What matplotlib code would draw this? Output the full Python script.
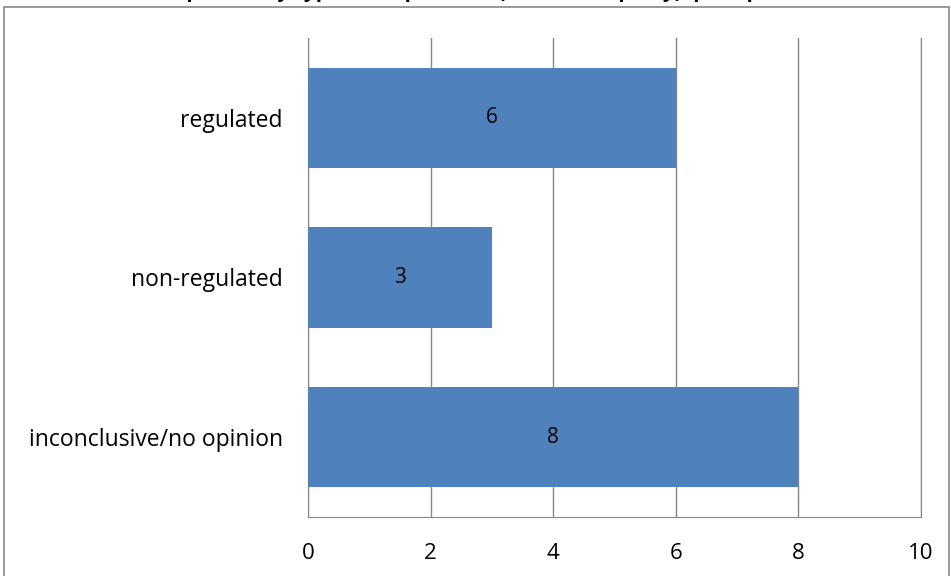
import matplotlib.pyplot as plt
from matplotlib.patches import Rectangle

# Responses per category
categories = ['regulated', 'non-regulated', 'inconclusive/no opinion']
counts = [6, 3, 8]
xticks = [0, 2, 4, 6, 8, 10]

plt.rcParams['font.family'] = ['Open Sans', 'DejaVu Sans']

fig = plt.figure(figsize=(9.51, 5.76), dpi=100)
ax = fig.add_axes([308 / 951, 59 / 576, 613 / 951, 479 / 576])

y = list(range(len(categories)))
bars = ax.barh(y, counts, height=0.63, color='#4F81BD', zorder=3)

for b, v in zip(bars, counts):
    ax.text(v / 2, b.get_y() + b.get_height() / 2, str(v),
            ha='center', va='center', fontsize=15, color='black', zorder=4)

ax.set_xlim(0, 10)
ax.set_ylim(len(categories) - 0.5, -0.5)
ax.set_xticks(xticks)
ax.set_xticklabels([str(t) for t in xticks], fontsize=16)
ax.set_yticks(y)
ax.set_yticklabels(categories, fontsize=16.5)
ax.tick_params(axis='both', length=0)
ax.tick_params(axis='x', pad=19)
ax.tick_params(axis='y', pad=18)

ax.grid(axis='x', color='#868686', linewidth=1, zorder=0)
ax.spines['top'].set_visible(False)
for side in ['left', 'bottom', 'right']:
    ax.spines[side].set_color('#868686')

# chart frame, bottom edge runs past the image
fig.patches.append(Rectangle((3.5 / 951, -0.05), 945 / 951, 1.05 - 7.5 / 576,
                             transform=fig.transFigure, fill=False,
                             edgecolor='#868686', linewidth=1.2))

# title sits almost entirely above the visible area
fig.text(0.5, 1 + 3.5 / 576, 'Responses by type of respondent (interested party), per option',
         ha='center', va='baseline', fontsize=15, fontweight='bold')

fig.savefig('out.png', dpi=100)
